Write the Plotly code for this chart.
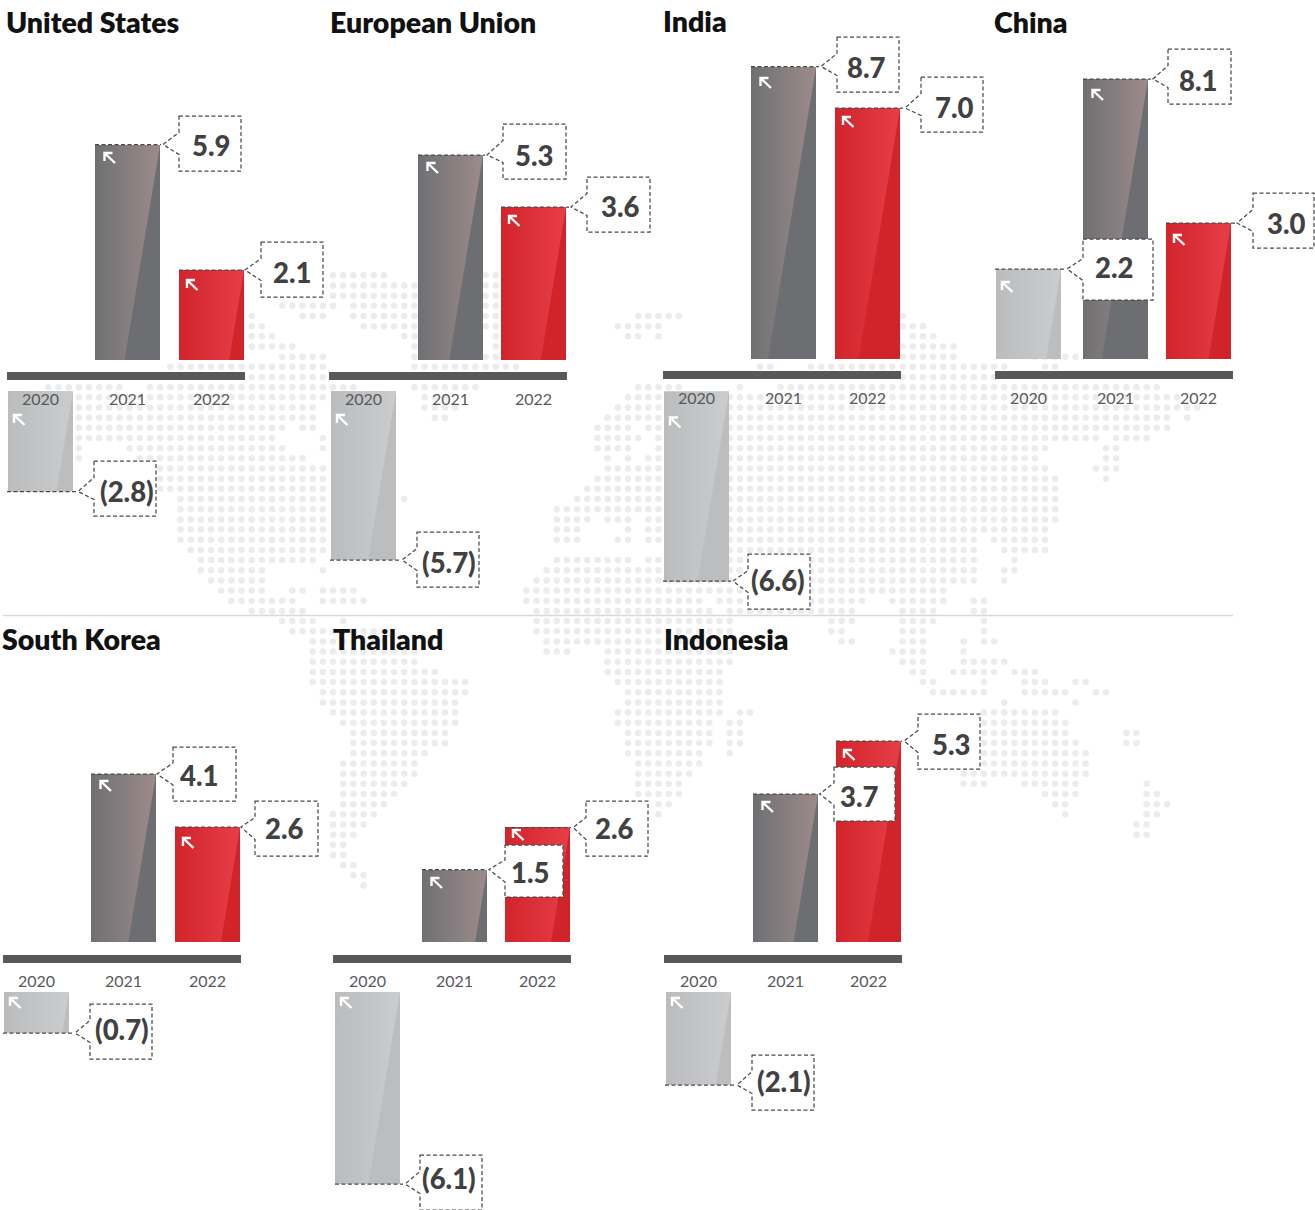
import plotly.graph_objects as go

W, H = 1315, 1210

# ---------- data ----------
years = [2020, 2021, 2022]
countries = ["United States", "European Union", "India", "China",
             "South Korea", "Thailand", "Indonesia"]

# printed values
us_values = [-2.8, 5.9, 2.1]
eu_values = [-5.7, 5.3, 3.6]
india_values = [-6.6, 8.7, 7.0]
china_values = [2.2, 8.1, 3.0]
korea_values = [-0.7, 4.1, 2.6]
thailand_values = [-6.1, 1.5, 2.6]
indonesia_values = [-2.1, 3.7, 5.3]

# the infographic's bars are not proportional to the printed figures:
# these are the bar lengths as drawn in the picture
us_drawn = [-100.5, 215, 90]
eu_drawn = [-169, 205, 153]
india_drawn = [-190, 292, 251]
china_drawn = [90, 280, 136]
korea_drawn = [-41, 168, 115]
thailand_drawn = [-192, 72, 115]
indonesia_drawn = [-93, 148, 201]

# background dot map: row -> inclusive runs of dot columns
map_runs = {
    0: [(28, 33), (43, 44)], 1: [(28, 36), (43, 44)], 2: [(28, 36), (43, 44)],
    3: [(23, 28), (30, 36), (43, 44)],
    4: [(20, 20), (25, 27), (30, 36), (43, 44), (58, 62), (84, 84)],
    5: [(20, 21), (31, 36), (43, 44), (56, 60), (84, 86)],
    6: [(20, 22), (35, 36), (44, 44), (57, 58), (60, 60), (85, 87)],
    7: [(20, 24), (36, 36), (44, 44), (84, 89)],
    8: [(23, 27), (36, 36), (43, 44), (84, 89), (97, 101)],
    9: [(12, 27), (36, 46), (70, 71), (75, 94), (98, 99)],
    10: [(20, 27), (84, 93)],
    11: [(0, 7), (10, 30), (36, 42), (58, 62), (68, 68), (72, 109)],
    12: [(3, 27), (37, 39), (57, 111)],
    13: [(3, 26), (37, 40), (56, 113)],
    14: [(3, 26), (38, 39), (55, 110), (112, 112)],
    15: [(3, 23), (25, 26), (54, 57), (59, 110)],
    16: [(3, 22), (27, 27), (54, 58), (60, 103), (105, 108)],
    17: [(3, 3), (8, 23), (27, 27), (54, 57), (60, 98), (104, 105)],
    18: [(3, 3), (9, 25), (55, 55), (57, 57), (59, 97), (104, 105)],
    19: [(11, 27), (55, 98), (103, 105)],
    20: [(11, 27), (54, 99), (104, 104)],
    21: [(11, 27), (53, 99)],
    22: [(13, 27), (35, 35), (52, 99)],
    23: [(13, 27), (50, 99)],
    24: [(13, 27), (50, 53), (55, 57), (59, 99)],
    25: [(13, 27), (50, 52), (57, 57), (59, 98)],
    26: [(13, 27), (50, 52), (56, 57), (59, 91), (93, 98)],
    27: [(14, 27), (63, 91), (94, 98)],
    28: [(15, 26), (50, 57), (59, 91), (95, 95)],
    29: [(15, 21), (27, 27), (49, 91), (94, 95)],
    30: [(16, 21), (48, 91), (94, 94)],
    31: [(17, 21), (24, 25), (27, 30), (47, 88)],
    32: [(18, 24), (27, 31), (47, 64), (66, 80), (83, 88), (91, 92)],
    33: [(20, 25), (48, 65), (67, 79), (84, 87), (91, 92)],
    34: [(23, 26), (29, 29), (48, 67), (77, 79), (84, 87), (92, 92)],
    35: [(24, 32), (48, 67), (77, 78), (84, 86), (92, 92)],
    36: [(26, 33), (49, 65), (78, 79), (84, 86), (90, 90), (92, 93)],
    37: [(26, 36), (49, 51), (55, 67), (83, 86), (90, 90)],
    38: [(26, 36), (55, 67), (84, 86), (90, 94)],
    39: [(26, 38), (55, 66), (85, 86), (89, 93), (95, 97)],
    40: [(26, 41), (56, 66), (86, 87), (92, 92), (96, 98), (101, 102)],
    41: [(27, 41), (57, 66), (87, 92), (96, 100), (103, 104)],
    42: [(27, 40), (57, 66), (94, 94), (101, 101)],
    43: [(28, 40), (56, 66), (68, 69), (92, 99)],
    44: [(29, 40), (56, 65), (67, 68), (92, 100)],
    45: [(30, 39), (57, 65), (67, 68), (92, 100), (106, 107)],
    46: [(30, 39), (57, 65), (67, 68), (92, 101), (106, 107)],
    47: [(30, 37), (57, 64), (67, 67), (92, 102)],
    48: [(29, 36), (58, 64), (92, 102)],
    49: [(29, 36), (58, 63), (90, 102)],
    50: [(29, 35), (58, 62), (90, 92), (96, 101), (108, 108)],
    51: [(29, 34), (58, 62), (98, 101), (108, 109)],
    52: [(29, 33), (60, 61), (99, 100), (108, 110)],
    53: [(28, 32), (60, 60), (100, 100), (108, 109)],
    54: [(28, 31), (107, 108)], 55: [(28, 30), (107, 108)],
    56: [(28, 29)], 57: [(28, 29)], 58: [(29, 30)], 59: [(30, 31)], 60: [(31, 31)],
}

# ---------- layout constants (pixels) ----------
BAR_W = 65
SLANT = 0.165                        # sheen edge: px across per px of height
FONT_BODY = "Lato"
INK = "#414042"

panels = [
    dict(val=us_values, drawn=us_drawn, L=8, ao=1, s3=171, axis=372, pos=16, neg=15, ty=22, tx=4, dy=[24, 8, 10], tl=6),
    dict(val=eu_values, drawn=eu_drawn, L=331, ao=2, s3=170, axis=372, pos=16, neg=15, ty=22, tx=328, dy=[24, 8, 9], tl=6),
    dict(val=india_values, drawn=india_drawn, L=664, ao=1, s3=171, axis=371, pos=16, neg=16.5, ty=21, tx=661, dy=[26, 11, 9], tl=6),
    dict(val=china_values, drawn=china_drawn, L=996, ao=1, s3=170, axis=371, pos=16, neg=15, ty=22, tx=992, dy=[13, 11, 12], tl=6),
    dict(val=korea_values, drawn=korea_drawn, L=4, ao=1, s3=171, axis=955, pos=17, neg=33, ty=639, tx=0, dy=[6, 7, 11], tl=5),
    dict(val=thailand_values, drawn=thailand_drawn, L=335, ao=2, s3=170, axis=955, pos=17, neg=33, ty=639, tx=331, dy=[6, 8, 3], tl=5),
    dict(val=indonesia_values, drawn=indonesia_drawn, L=666, ao=2, s3=170, axis=955, pos=17, neg=33, ty=639, tx=662, dy=[6, 8, 9], tl=5),
]

# callout per panel and year: box left, top, right, bottom, tip x, tip y, rule start
callouts = [
    [(94, 461, 156, 516, 78, 491.5, 7), (179, 116, 241, 171, 163, 144.5, 95), (261, 242, 323, 297, 245, 270, 179)],
    [(417, 532, 479, 587, 402, 560, 330), (503, 124, 566, 179, 487, 155, 418), (587, 177, 650, 232, 571, 207, 501)],
    [(748, 554, 810, 609, 733, 581, 663), (837, 37, 899, 92, 821, 66.5, 751), (921, 77, 983, 132, 905, 108, 835)],
    [(1083, 239, 1153, 300, 1067, 269, 995), (1168, 49, 1231, 104, 1153, 79, 1083), (1253, 193, 1314, 248, 1237, 223, 1166)],
    [(90, 1004, 152, 1059, 75, 1033, 3), (173, 747, 236, 801, 157, 774, 91), (255, 801, 318, 856, 241, 827, 175)],
    [(420, 1155, 482, 1210, 405, 1184, 335), (505, 845, 563, 897, 489, 869.5, 422), (586, 801, 648, 856, 573, 827.5, 505)],
    [(752, 1055, 814, 1110, 737, 1085, 665), (834, 767, 895, 821, 819.5, 794, 753), (918, 714, 980, 769, 904, 741, 836)],
]
# where each printed figure sits
label_at = [
    [(127, 492), (211, 145), (292, 273)],
    [(449, 562), (534, 155), (620, 207)],
    [(778, 580), (866, 68), (954, 108)],
    [(1114, 268), (1198, 80), (1286, 224)],
    [(122, 1029), (199, 776), (284, 828)],
    [(449, 1178), (530, 872), (614, 828)],
    [(784, 1081), (859, 796), (951, 745)],
]

BASE_COL = {0: "#bcbdbf", 1: "#6d6e71", 2: "#d1232a"}
GRAD_COL = {0: ("#bbbcbe", "#cbcccd"), 1: ("#6f7073", "#9d8b8b"), 2: ("#d2242b", "#e63e48")}
ARROW_DX = [6, 9.5, 8]


def fx(px):
    return px / W


def fy(px):
    return 1 - px / H


def fmt(v):
    return f"({abs(v):.1f})" if v < 0 else f"{v:.1f}"


fig = go.Figure()

# ---------- dot map ----------
mx, my = [], []
for row, runs in map_runs.items():
    for a, b in runs:
        for col in range(a, b + 1):
            mx.append(col)
            my.append(row)
GRID = 10.17
fig.add_trace(go.Scatter(x=mx, y=my, mode="markers", hoverinfo="skip",
                         marker=dict(size=6.5, color="#ececed", line=dict(width=0))))
layout = dict(
    xaxis=dict(domain=[0, 1], range=[-48.3 / GRID, (W - 48.3) / GRID], visible=False),
    yaxis=dict(domain=[0, 1], range=[(H - 275.3) / GRID, -275.3 / GRID], visible=False),
)

shapes, annos = [], []

# ---------- panels ----------
for i, p in enumerate(panels):
    n = i + 2
    xk, yk = f"x{n}", f"y{n}"
    L, ao = p["L"], p["ao"]
    slot = [32.5, 119.5, 32.5 + p["s3"]]
    row_top, row_bot = (0, 612) if i < 4 else (618, H)
    zero = p["axis"] + 4
    lengths = p["drawn"]
    bases = [p["pos"] if v > 0 else -p["neg"] for v in lengths]

    fig.add_trace(go.Bar(x=slot, y=lengths, base=bases, width=BAR_W, xaxis=xk, yaxis=yk,
                         marker=dict(color=[BASE_COL[k] for k in range(3)], line=dict(width=0)),
                         hoverinfo="skip"))

    # gradient sheen laid over each bar
    for k in range(3):
        x0, x1 = slot[k] - BAR_W / 2, slot[k] + BAR_W / 2
        ends = [bases[k], bases[k] + lengths[k]]
        y_top, y_bot = max(ends), min(ends)
        bottom_x = max(x0 + 2, x1 - SLANT * abs(lengths[k]))
        fig.add_trace(go.Scatter(
            x=[x0, x1, bottom_x, x0, x0], y=[y_top, y_top, y_bot, y_bot, y_top], xaxis=xk, yaxis=yk,
            mode="lines", line=dict(width=0), fill="toself", hoverinfo="skip",
            fillgradient=dict(type="horizontal",
                              colorscale=[[0, GRAD_COL[k][0]], [1, GRAD_COL[k][1]]])))

    layout[f"xaxis{n}"] = dict(
        domain=[fx(L - ao), fx(L - ao + 238)], range=[-ao, 238 - ao], anchor="free",
        position=fy(p["axis"] + 4), showline=True, linewidth=8, linecolor="#58595b",
        tickmode="array", tickvals=slot, ticktext=[str(y) for y in years],
        ticks="outside", ticklen=p["tl"], tickcolor="rgba(0,0,0,0)",
        tickfont=dict(family=FONT_BODY, size=16, color="#58595b"),
        showgrid=False, zeroline=False, fixedrange=True)
    layout[f"yaxis{n}"] = dict(
        domain=[fy(row_bot), fy(row_top)], range=[zero - row_bot, zero - row_top],
        anchor=xk, visible=False, fixedrange=True)

    # white arrows
    for k in range(3):
        left = L + slot[k] - BAR_W / 2
        if lengths[k] > 0:
            top = p["axis"] + 4 - p["pos"] - lengths[k]
        else:
            top = p["axis"] + 4 + p["neg"]
        tx, ty = left + ARROW_DX[k], top + p["dy"][k]
        path = (f"M{fx(tx + 10.5)},{fy(ty + 10)} L{fx(tx)},{fy(ty)} "
                f"M{fx(tx + 8)},{fy(ty)} L{fx(tx)},{fy(ty)} L{fx(tx)},{fy(ty + 8)}")
        shapes.append(dict(type="path", path=path, xref="paper", yref="paper",
                           line=dict(color="white", width=2.4)))

    # title
    annos.append(dict(text=countries[i], x=fx(p["tx"]), y=fy(p["ty"]),
                      xref="paper", yref="paper", xanchor="left", yanchor="middle",
                      showarrow=False,
                      font=dict(family=FONT_BODY, size=28.5, weight=800, color="#111")))

# ---------- callouts (on top of all the bars) ----------
dash = dict(color="#4a4a4c", width=1.25, dash="4px,2.5px")
for i, p in enumerate(panels):
    for k in range(3):
        l, t, r, b, tipx, tipy, start = callouts[i][k]
        cy = (t + b) / 2
        shapes.append(dict(type="line", x0=fx(start), x1=fx(tipx - 2), y0=fy(tipy), y1=fy(tipy),
                           xref="paper", yref="paper", line=dash))
        path = (f"M{fx(l)},{fy(t)} L{fx(r)},{fy(t)} L{fx(r)},{fy(b)} L{fx(l)},{fy(b)} "
                f"L{fx(l)},{fy(cy + 11)} L{fx(tipx)},{fy(tipy)} L{fx(l)},{fy(cy - 11)} Z")
        shapes.append(dict(type="path", path=path, xref="paper", yref="paper",
                           fillcolor="white", line=dash))
        lx, ly = label_at[i][k]
        annos.append(dict(text=fmt(p["val"][k]), x=fx(lx), y=fy(ly),
                          xref="paper", yref="paper", xanchor="center", yanchor="middle",
                          showarrow=False,
                          font=dict(family=FONT_BODY, size=27.5, weight=900, color=INK)))

# row separator
shapes.append(dict(type="line", x0=fx(3), x1=fx(1233), y0=fy(615.5), y1=fy(615.5),
                   xref="paper", yref="paper", line=dict(color="#d8d8d8", width=1.5)))

fig.update_layout(width=W, height=H, margin=dict(l=0, r=0, t=0, b=0), showlegend=False,
                  paper_bgcolor="white", plot_bgcolor="rgba(0,0,0,0)",
                  barmode="overlay", shapes=shapes, annotations=annos, **layout)
fig.write_html("out.html", config=dict(displayModeBar=False),
               post_script="document.body.style.margin='0';")
